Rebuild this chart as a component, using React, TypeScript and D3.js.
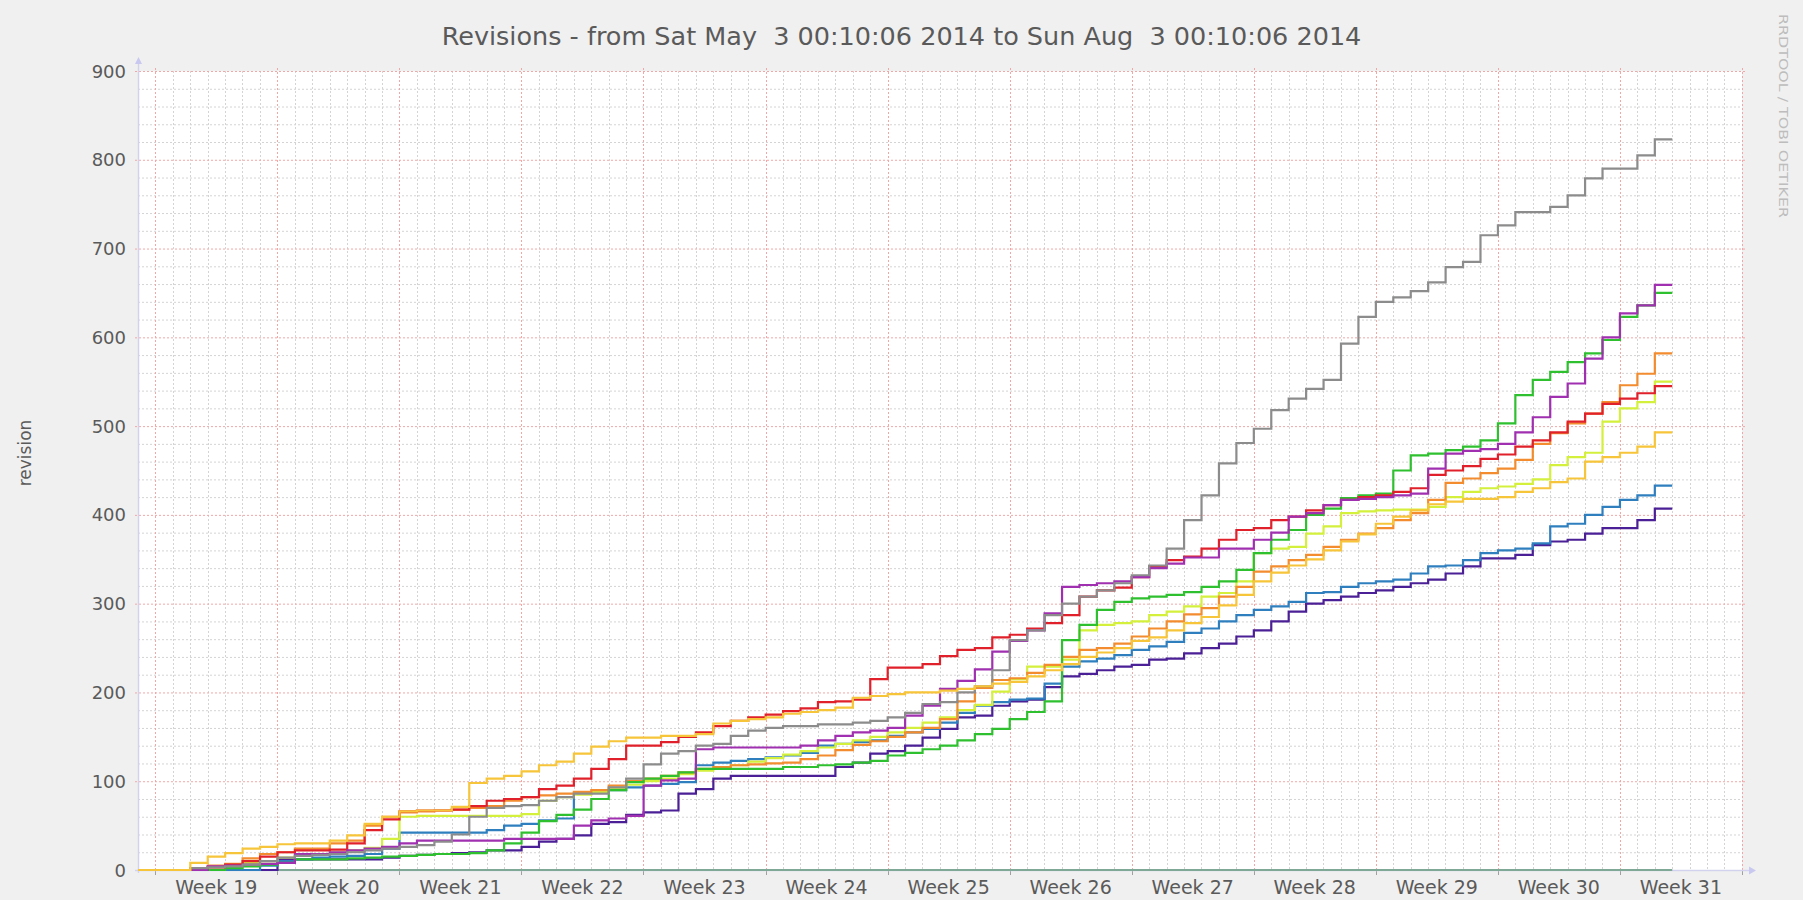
import React from "react";
import * as d3 from "d3";

const TITLE = "Revisions - from Sat May  3 00:10:06 2014 to Sun Aug  3 00:10:06 2014";
const Y_LABEL = "revision";
const WATERMARK = "RRDTOOL / TOBI OETIKER";
const WEEK_LABELS = ["Week 19", "Week 20", "Week 21", "Week 22", "Week 23", "Week 24", "Week 25", "Week 26", "Week 27", "Week 28", "Week 29", "Week 30", "Week 31"];
const Y_TICKS = [0, 100, 200, 300, 400, 500, 600, 700, 800, 900];
const TOTAL_DAYS = 92;

const gray = [0, 0, 0, 2, 3, 4, 6, 10, 14, 16, 17, 18, 20, 22, 24, 26, 28, 32, 40, 60, 70, 72, 73, 78, 82, 86, 86, 93, 103, 119, 131, 134, 140, 142, 151, 157, 160, 162, 162, 164, 164, 166, 168, 172, 177, 187, 189, 200, 207, 225, 259, 270, 287, 300, 308, 315, 323, 332, 343, 362, 394, 422, 458, 481, 497, 518, 531, 542, 552, 593, 623, 640, 645, 652, 662, 679, 685, 715, 726, 741, 741, 747, 760, 779, 790, 790, 805, 823];
const purple = [0, 0, 0, 0, 4, 5, 6, 7, 8, 18, 18, 20, 22, 24, 26, 30, 33, 33, 33, 33, 33, 35, 35, 35, 35, 50, 56, 58, 61, 95, 101, 103, 136, 138, 138, 138, 138, 138, 140, 146, 151, 155, 157, 160, 174, 185, 204, 213, 226, 246, 258, 270, 289, 319, 321, 323, 325, 330, 340, 345, 352, 352, 362, 362, 372, 380, 398, 402, 411, 417, 418, 420, 422, 424, 452, 469, 472, 474, 480, 493, 510, 533, 548, 576, 600, 627, 636, 659];
const green = [0, 0, 0, 0, 0, 2, 4, 6, 8, 12, 12, 12, 13, 14, 15, 16, 17, 18, 18, 19, 22, 30, 42, 55, 62, 68, 80, 90, 99, 103, 106, 110, 114, 114, 114, 114, 114, 116, 116, 118, 119, 121, 123, 129, 132, 136, 140, 146, 153, 159, 170, 178, 190, 259, 276, 293, 302, 306, 308, 310, 313, 319, 325, 338, 357, 372, 383, 400, 407, 419, 422, 424, 450, 467, 469, 473, 477, 484, 503, 535, 552, 561, 572, 582, 597, 623, 636, 650];
const orange = [0, 0, 0, 0, 5, 7, 13, 18, 20, 24, 24, 30, 33, 50, 60, 65, 66, 67, 68, 70, 72, 78, 82, 84, 86, 88, 90, 95, 100, 103, 106, 110, 114, 116, 118, 119, 120, 121, 125, 129, 135, 141, 145, 150, 155, 160, 170, 190, 205, 214, 216, 222, 231, 240, 248, 250, 255, 263, 272, 280, 288, 295, 308, 319, 336, 342, 349, 355, 364, 372, 379, 385, 394, 402, 417, 436, 441, 447, 452, 462, 480, 492, 503, 514, 527, 546, 559, 582];
const lime = [0, 0, 0, 0, 3, 5, 8, 10, 14, 16, 18, 20, 22, 25, 35, 60, 61, 61, 61, 61, 61, 61, 63, 78, 82, 85, 88, 92, 96, 100, 103, 108, 112, 116, 118, 122, 126, 130, 134, 138, 142, 146, 150, 155, 160, 166, 172, 180, 186, 201, 215, 229, 229, 237, 270, 276, 278, 280, 287, 291, 297, 308, 312, 325, 357, 362, 364, 379, 387, 402, 404, 405, 406, 406, 409, 420, 426, 430, 432, 435, 440, 456, 465, 470, 505, 520, 527, 550];
const red = [0, 0, 0, 2, 3, 6, 10, 15, 20, 22, 22, 23, 30, 45, 57, 66, 67, 67, 68, 72, 78, 80, 82, 91, 95, 103, 114, 125, 140, 140, 144, 150, 155, 162, 168, 172, 175, 179, 182, 189, 190, 192, 215, 228, 228, 232, 241, 248, 250, 262, 265, 272, 278, 287, 308, 315, 318, 330, 342, 349, 353, 362, 372, 383, 385, 394, 398, 405, 411, 417, 420, 422, 426, 430, 445, 450, 455, 463, 468, 477, 484, 493, 505, 514, 525, 531, 537, 545];
const gold = [0, 0, 0, 8, 15, 19, 24, 26, 29, 30, 30, 33, 39, 52, 60, 66, 67, 67, 71, 98, 103, 106, 111, 118, 122, 131, 139, 145, 149, 149, 151, 151, 153, 165, 168, 170, 172, 176, 178, 180, 183, 194, 196, 198, 200, 200, 202, 204, 207, 210, 212, 218, 225, 232, 240, 245, 250, 258, 262, 270, 278, 285, 298, 310, 325, 335, 343, 350, 360, 370, 378, 390, 398, 405, 412, 415, 418, 418, 420, 426, 430, 437, 441, 460, 465, 470, 477, 493];
const blue = [0, 0, 0, 0, 0, 0, 0, 5, 10, 12, 14, 15, 16, 18, 24, 42, 42, 42, 42, 42, 45, 50, 52, 56, 58, 86, 88, 90, 93, 95, 97, 99, 118, 121, 123, 125, 127, 129, 132, 140, 142, 144, 146, 151, 155, 159, 166, 177, 185, 189, 192, 193, 210, 229, 235, 238, 242, 248, 252, 257, 267, 272, 280, 287, 293, 297, 302, 312, 313, 319, 323, 325, 327, 334, 342, 343, 349, 357, 360, 362, 368, 387, 390, 400, 409, 417, 422, 433];
const indigo = [0, 0, 0, 0, 0, 0, 0, 0, 12, 12, 12, 12, 12, 12, 14, 16, 17, 18, 19, 20, 22, 22, 26, 32, 35, 39, 52, 54, 62, 65, 67, 86, 91, 103, 106, 106, 106, 106, 106, 106, 116, 121, 131, 134, 140, 149, 159, 172, 174, 185, 190, 192, 206, 218, 221, 225, 229, 231, 237, 238, 244, 250, 255, 263, 270, 280, 291, 300, 304, 308, 312, 315, 319, 323, 327, 334, 342, 351, 351, 355, 366, 370, 372, 379, 385, 385, 394, 407];
const teal = [0, 0, 0, 0, 0, 0, 0, 0, 0, 0, 0, 0, 0, 0, 0, 0, 0, 0, 0, 0, 0, 0, 0, 0, 0, 0, 0, 0, 0, 0, 0, 0, 0, 0, 0, 0, 0, 0, 0, 0, 0, 0, 0, 0, 0, 0, 0, 0, 0, 0, 0, 0, 0, 0, 0, 0, 0, 0, 0, 0, 0, 0, 0, 0, 0, 0, 0, 0, 0, 0, 0, 0, 0, 0, 0, 0, 0, 0, 0, 0, 0, 0, 0, 0, 0, 0, 0, 0];

const SERIES = [
  { name: "teal", values: teal, color: "#7fa896" },
  { name: "indigo", values: indigo, color: "#4b1f96" },
  { name: "blue", values: blue, color: "#2f7fbf" },
  { name: "lime", values: lime, color: "#d4f03c" },
  { name: "orange", values: orange, color: "#f28c2e" },
  { name: "green", values: green, color: "#2fc02f" },
  { name: "red", values: red, color: "#e0202a" },
  { name: "purple", values: purple, color: "#a030b0" },
  { name: "gray", values: gray, color: "#8c8c8c" },
  { name: "gold", values: gold, color: "#f7c53a" },
];

const W = 1803;
const H = 900;
const X0 = 138;
const X1 = 1742;
const Y0 = 71;
const Y1 = 870;
const DAY_OFFSET = 1 - 606 / 86400;
const FONT = "'DejaVu Sans', sans-serif";

export default function App() {
  const x = d3.scaleLinear().domain([0, TOTAL_DAYS]).range([X0, X1]);
  const y = d3.scaleLinear().domain([0, 900]).range([Y1, Y0]);
  const line = d3
    .line<[number, number]>()
    .x((d) => x(d[0]))
    .y((d) => y(d[1]))
    .curve(d3.curveStepAfter);

  const days = d3.range(0, TOTAL_DAYS).map((k) => k + DAY_OFFSET);
  const minorY = d3.range(0, 901, 20);

  return (
    <svg
      width={W}
      height={H}
      style={{ position: "absolute", left: 0, top: 0, display: "block" }}
      xmlns="http://www.w3.org/2000/svg"
    >
      <rect x={0} y={0} width={W} height={H} fill="#f0f0f0" />
      <rect x={X0} y={Y0} width={X1 - X0} height={Y1 - Y0} fill="#ffffff" />

      {minorY.filter((v) => v % 100 !== 0).map((v) => (
        <line key={"hm" + v} x1={X0} x2={X1} y1={y(v) + 0.5} y2={y(v) + 0.5} stroke="#d4d4d4" strokeWidth={1} strokeDasharray="2 2" />
      ))}
      {days.map((t, k) =>
        k % 7 !== 0 ? (
          <line key={"vm" + k} x1={Math.round(x(t)) + 0.5} x2={Math.round(x(t)) + 0.5} y1={Y0} y2={Y1} stroke="#d4d4d4" strokeWidth={1} strokeDasharray="2 2" />
        ) : null
      )}
      {Y_TICKS.filter((v) => v > 0).map((v) => (
        <line key={"hM" + v} x1={X0 - 3} x2={X1 + 3} y1={y(v) + 0.5} y2={y(v) + 0.5} stroke="#f2a7a7" strokeWidth={1} strokeDasharray="2 2" />
      ))}
      {days.map((t, k) =>
        k % 7 === 0 ? (
          <line key={"vM" + k} x1={Math.round(x(t)) + 0.5} x2={Math.round(x(t)) + 0.5} y1={Y0 - 3} y2={Y1} stroke="#f2a7a7" strokeWidth={1} strokeDasharray="2 2" />
        ) : null
      )}
      {days.map((t, k) =>
        k % 7 === 0 ? (
          <line key={"wt" + k} x1={Math.round(x(t)) + 0.5} x2={Math.round(x(t)) + 0.5} y1={Y1} y2={Y1 + 5} stroke="#a0a0a0" strokeWidth={1} />
        ) : null
      )}

      <line x1={X0 + 0.5} x2={X0 + 0.5} y1={Y1 + 3} y2={Y0 - 8} stroke="#d2d2ee" strokeWidth={1.5} />
      <line x1={X0 - 3} x2={X1 + 8} y1={Y1 + 0.5} y2={Y1 + 0.5} stroke="#d2d2ee" strokeWidth={1.5} />
      <path d={`M${X0 - 3},${Y0 - 7} L${X0 + 4},${Y0 - 7} L${X0 + 0.5},${Y0 - 14} Z`} fill="#c8c8f0" />
      <path d={`M${X1 + 7},${Y1 - 3.5} L${X1 + 7},${Y1 + 4.5} L${X1 + 14},${Y1 + 0.5} Z`} fill="#c8c8f0" />

      {SERIES.map((s) => {
        const pts: [number, number][] = s.values.map((v, i) => [i, v] as [number, number]);
        pts.push([s.values.length, s.values[s.values.length - 1]]);
        return <path key={s.name} d={line(pts) || ""} fill="none" stroke={s.color} strokeWidth={2.2} />;
      })}

      {Y_TICKS.map((v) => (
        <text key={"yl" + v} x={126} y={y(v) + 6.5} textAnchor="end" fontFamily={FONT} fontSize={18} fill="#5a5a5a">
          {v}
        </text>
      ))}
      {WEEK_LABELS.map((lab, i) => (
        <text key={lab} x={x(DAY_OFFSET + 7 * i + 3.5)} y={894} textAnchor="middle" fontFamily={FONT} fontSize={19} fill="#5a5a5a">
          {lab}
        </text>
      ))}
      <text x={W / 2} y={45} textAnchor="middle" fontFamily={FONT} fontSize={25.5} fill="#5a5a5a" style={{ whiteSpace: "pre" }}>
        {TITLE}
      </text>
      <text transform="translate(25,453) rotate(-90)" textAnchor="middle" dominantBaseline="central" fontFamily={FONT} fontSize={17} fill="#5a5a5a">
        {Y_LABEL}
      </text>
      <text transform="translate(1779,14) rotate(90)" textAnchor="start" fontFamily={FONT} fontSize={13} fill="#bdbdbd" textLength={204} lengthAdjust="spacingAndGlyphs">
        {WATERMARK}
      </text>
    </svg>
  );
}
